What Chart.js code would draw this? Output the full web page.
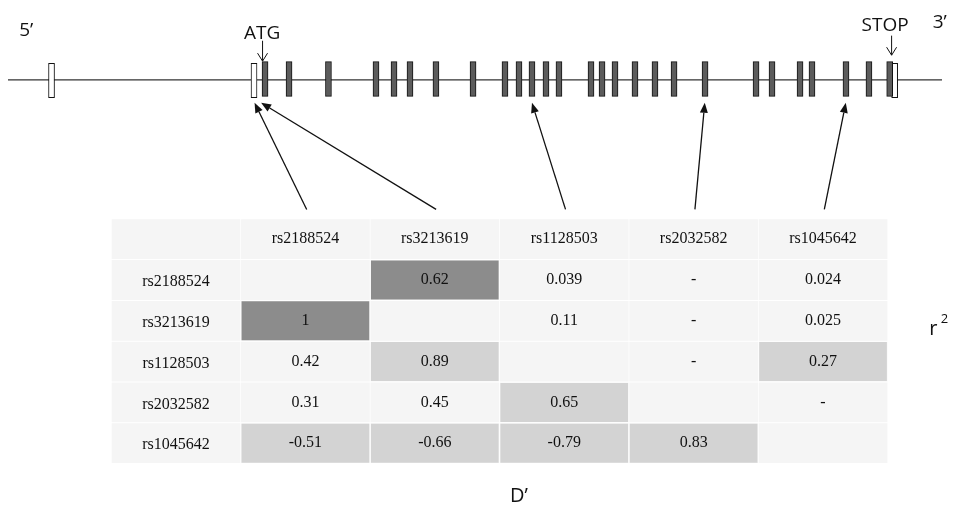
<!DOCTYPE html>
<html>
<head>
<meta charset="utf-8">
<script src="https://cdn.jsdelivr.net/npm/chart.js@4.4.1/dist/chart.umd.min.js"></script>
<style>
  html, body { margin: 0; padding: 0; background: #fff; }
  #wrap { width: 954px; height: 505px; }
</style>
</head>
<body>
<div id="wrap"><canvas id="ldChart" width="954" height="505"></canvas></div>
<script>
// gene model, relative position along the drawn region (0..100)
const geneSpan = [0, 100];
const utrExons = [4.66, 26.34, 94.93];
const codingExons = [27.52, 30.09, 34.31, 39.40, 41.33, 43.04, 45.82, 49.79, 53.21, 54.71, 56.10, 57.60, 58.99,
  62.42, 63.60, 64.99, 67.13, 69.27, 71.31, 74.63, 80.09, 81.80, 84.80, 86.08, 89.72, 92.18, 94.40];
const atgPos = 27.2;
const stopPos = 94.55;

// SNPs and where they map on the gene
const snps = ['rs2188524', 'rs3213619', 'rs1128503', 'rs2032582', 'rs1045642'];
const snpPositions = [26.4, 27.1, 56.1, 74.6, 89.7];

// r2 above the diagonal, D' below it, '-' = not given
const ldMatrix = [
  ['', 0.62, 0.039, '-', 0.024],
  [1, '', 0.11, '-', 0.025],
  [0.42, 0.89, '', '-', 0.27],
  [0.31, 0.45, 0.65, '', '-'],
  [-0.51, -0.66, -0.79, 0.83, '']
];
// 0 = none, 1 = light grey, 2 = dark grey
const ldShade = [
  [0, 2, 0, 0, 0],
  [2, 0, 0, 0, 0],
  [0, 1, 0, 0, 1],
  [0, 0, 1, 0, 0],
  [1, 1, 1, 1, 0]
];

// table cells
const bgCells = [];
for (let r = 0; r <= snps.length; r++) {
  for (let c = 0; c <= snps.length; c++) bgCells.push({ x: c, y: [r - 0.48, r + 0.48] });
}
const darkCells = [], lightCells = [];
ldShade.forEach((row, i) => row.forEach((s, j) => {
  const cell = { x: j + 1, y: [i + 1 - 0.47, i + 1 + 0.47] };
  if (s === 2) darkCells.push(cell);
  if (s === 1) lightCells.push(cell);
}));

function arrow(ctx, x0, y0, x1, y1) {
  const a = Math.atan2(y1 - y0, x1 - x0);
  const len = 10, w = 4;
  const bx = x1 - len * Math.cos(a), by = y1 - len * Math.sin(a);
  ctx.beginPath();
  ctx.moveTo(x0, y0);
  ctx.lineTo(bx, by);
  ctx.stroke();
  ctx.beginPath();
  ctx.moveTo(x1, y1);
  ctx.lineTo(bx + w * Math.sin(a), by - w * Math.cos(a));
  ctx.lineTo(bx - w * Math.sin(a), by + w * Math.cos(a));
  ctx.closePath();
  ctx.fill();
}

function openArrow(ctx, x, yTop, yBot) {
  ctx.beginPath();
  ctx.moveTo(x, yTop);
  ctx.lineTo(x, yBot);
  ctx.moveTo(x - 5, yBot - 8);
  ctx.lineTo(x, yBot);
  ctx.lineTo(x + 5, yBot - 8);
  ctx.stroke();
}

const labels = {
  id: 'labels',
  afterDatasetsDraw(chart) {
    const { ctx } = chart;
    const { x, y, xT, yT } = chart.scales;
    ctx.save();
    ctx.fillStyle = '#111';
    ctx.strokeStyle = '#111';

    // table text
    ctx.textAlign = 'center';
    ctx.textBaseline = 'middle';
    ctx.font = '16px "Liberation Serif", "Times New Roman", serif';
    snps.forEach((s, i) => {
      ctx.fillText(s, xT.getPixelForValue(i + 1), yT.getPixelForValue(0));
      ctx.fillText(s, xT.getPixelForValue(0), yT.getPixelForValue(i + 1) + 2);
    });
    ldMatrix.forEach((row, i) => row.forEach((v, j) => {
      if (v === '') return;
      ctx.fillText(String(v), xT.getPixelForValue(j + 1), yT.getPixelForValue(i + 1));
    }));

    // arrows from SNP columns to gene
    ctx.lineWidth = 1.3;
    snps.forEach((s, i) => {
      arrow(ctx, xT.getPixelForValue(i + 1.01), yT.getPixelForValue(-0.73),
        x.getPixelForValue(snpPositions[i]), y.getPixelForValue(-1.4));
    });

    // gene labels
    ctx.lineWidth = 1;
    ctx.font = '19px "Open Sans", sans-serif';
    ctx.textBaseline = 'alphabetic';
    ctx.fillText('ATG', x.getPixelForValue(atgPos), y.getPixelForValue(2.35));
    ctx.fillText('STOP', x.getPixelForValue(stopPos) - 6, y.getPixelForValue(2.82));
    openArrow(ctx, x.getPixelForValue(atgPos) + 0.5, y.getPixelForValue(2.25), y.getPixelForValue(1.05));
    openArrow(ctx, x.getPixelForValue(stopPos) + 0.5, y.getPixelForValue(2.55), y.getPixelForValue(1.4));
    ctx.textAlign = 'left';
    ctx.fillText('5’', x.getPixelForValue(1.2), y.getPixelForValue(2.55));
    ctx.fillText('3’', x.getPixelForValue(99.0), y.getPixelForValue(3.0));

    // r2 / D' legends
    ctx.font = '20px "Open Sans", sans-serif';
    ctx.fillText('r', xT.getPixelForValue(5.82), yT.getPixelForValue(2.35));
    ctx.font = '13px "Open Sans", sans-serif';
    ctx.fillText('2', xT.getPixelForValue(5.91), yT.getPixelForValue(2.05));
    ctx.font = '20px "Open Sans", sans-serif';
    ctx.textAlign = 'center';
    ctx.fillText('D’', xT.getPixelForValue(2.65), yT.getPixelForValue(6.45));
    ctx.restore();
  }
};

const ctxld = document.getElementById('ldChart').getContext('2d');
const ldChart = new Chart(ctxld, {
  type: 'bar',
  data: {
    datasets: [
      {
        label: 'coding exons',
        data: codingExons.map(p => ({ x: p, y: [-1.02, 1.02] })),
        xAxisID: 'x', yAxisID: 'y',
        backgroundColor: '#5c5c5c',
        borderColor: '#111',
        borderWidth: 1,
        borderSkipped: false,
        barThickness: 6,
        grouped: false,
        order: 0
      },
      {
        label: 'UTR exons',
        data: utrExons.map(p => ({ x: p, y: [-1.1, 0.92] })),
        xAxisID: 'x', yAxisID: 'y',
        backgroundColor: '#ffffff',
        borderColor: '#111',
        borderWidth: 1,
        borderSkipped: false,
        barThickness: 6,
        grouped: false,
        order: 0
      },
      {
        type: 'line',
        label: 'gene',
        data: geneSpan.map(p => ({ x: p, y: -0.05 })),
        xAxisID: 'x', yAxisID: 'y',
        borderColor: '#333',
        borderWidth: 1.2,
        pointRadius: 0,
        order: 1
      },
      {
        label: 'dark',
        data: darkCells,
        xAxisID: 'xT', yAxisID: 'yT',
        backgroundColor: '#8c8c8c',
        barThickness: 127,
        grouped: false,
        order: 2
      },
      {
        label: 'light',
        data: lightCells,
        xAxisID: 'xT', yAxisID: 'yT',
        backgroundColor: '#d3d3d3',
        barThickness: 127,
        grouped: false,
        order: 2
      },
      {
        label: 'table',
        data: bgCells,
        xAxisID: 'xT', yAxisID: 'yT',
        backgroundColor: '#f5f5f5',
        barThickness: 128,
        grouped: false,
        order: 3
      }
    ]
  },
  options: {
    responsive: false,
    animation: false,
    layout: { padding: 0 },
    scales: {
      x: { type: 'linear', axis: 'x', display: false, offset: false, min: -0.8565, max: 101.285 },
      y: { type: 'linear', axis: 'y', display: false, min: -25.06, max: 4.647 },
      xT: { type: 'linear', axis: 'x', display: false, offset: false, min: -1.360, max: 6.012 },
      yT: { type: 'linear', axis: 'y', display: false, reverse: true, min: -5.863, max: 6.515 }
    },
    plugins: {
      legend: { display: false },
      tooltip: { enabled: false }
    }
  },
  plugins: [labels]
});
</script>
</body>
</html>
